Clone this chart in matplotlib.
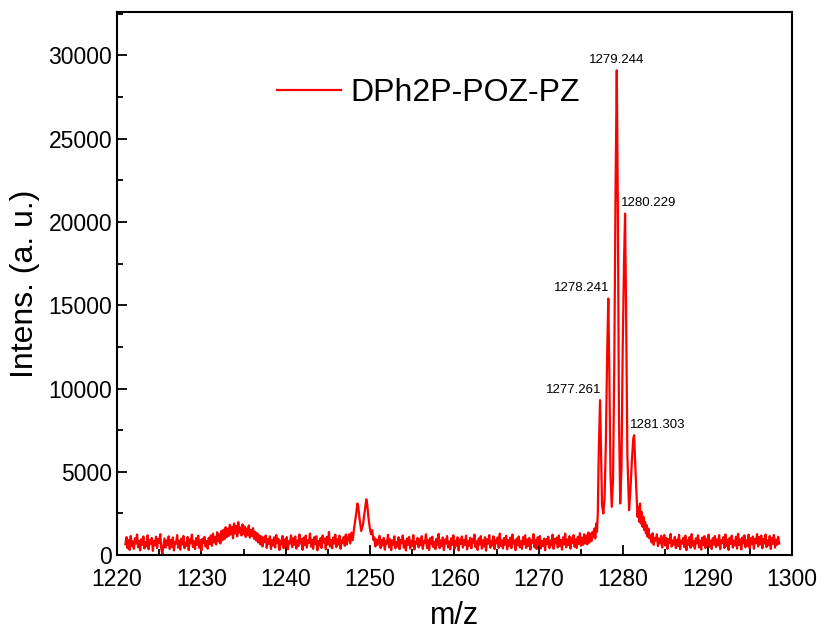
import numpy as np
import matplotlib
matplotlib.use("Agg")
import matplotlib.pyplot as plt
from matplotlib.ticker import MultipleLocator

plt.rcParams["font.family"] = ["Liberation Sans", "DejaVu Sans"]

nan = np.nan

# baseline read every 0.125 m/z from 1221.0 to 1298.5 (nan where the peak lists take over)
base_start = 1221.0
base_step = 0.125
baseline = (
    # 1221 - 1225.875
    [650, 1080, 420, 900, 310, 1150, 560, 820, 380, 1010, 700, 1240, 470, 860, 290, 950, 620, 1120, 400, 780,
     530, 1190, 350, 890, 680, 1030, 260, 840, 590, 1110, 430, 970, 720, 1260, 380, 60, 540, 1000, 460, 880]
    # 1226 - 1230.875
    + [610, 1130, 370, 920, 500, 1060, 280, 800, 690, 1200, 450, 870, 330, 990, 640, 1150, 410, 760, 560, 1090,
       300, 940, 710, 1230, 480, 830, 360, 1020, 620, 1170, 440, 900, 270, 980, 730, 1100, 520, 850, 390, 1040]
    # 1231 - 1235.875
    + [680, 1180, 560, 1290, 760, 1100, 640, 1380, 820, 1250, 700, 1460, 900, 1520, 960, 1680, 1080, 1590, 1150, 1820,
       1240, 1700, 1010, 1900, 1300, 1760, 1120, 1980, 1350, 1650, 1180, 1850, 1260, 1720, 1090, 1600, 1200, 1780, 1050, 1500]
    # 1236 - 1240.875
    + [1150, 1620, 980, 1400, 870, 1310, 760, 1200, 640, 1120, 520, 1050, 780, 1180, 430, 960, 690, 1130, 370, 900,
       580, 1070, 460, 1210, 720, 980, 310, 870, 640, 1150, 420, 940, 560, 1080, 350, 830, 700, 1190, 480, 1010]
    # 1241 - 1245.875
    + [620, 1120, 390, 880, 540, 1240, 700, 960, 320, 1050, 600, 1170, 450, 890, 740, 1300, 510, 920, 380, 1080,
       660, 1140, 290, 850, 570, 1020, 430, 1180, 760, 990, 350, 1100, 640, 1390, 520, 910, 410, 1060, 690, 1230]
    # 1246 - 1250.875
    + [480, 960, 640, 1170, 380, 890, 720, 1080, 560, 1240, 640, 990] + [nan] * 24 + [1060, 520, 940, 610]
    # 1251 - 1255.875
    + [830, 1160, 420, 900, 580, 1040, 330, 860, 690, 1220, 470, 950, 300, 880, 620, 1130, 410, 790, 540, 1070,
       360, 920, 710, 1180, 450, 840, 280, 1000, 630, 1090, 400, 870, 560, 1200, 340, 810, 680, 1040, 470, 960]
    # 1256 - 1260.875
    + [590, 1140, 380, 850, 720, 1250, 430, 900, 310, 1020, 650, 1110, 480, 800, 360, 990, 610, 1280, 420, 880,
       540, 1060, 300, 930, 700, 1150, 460, 820, 350, 1010, 620, 1190, 390, 870, 560, 1070, 280, 940, 680, 1120]
    # 1261 - 1265.875
    + [450, 910, 620, 1170, 340, 860, 570, 1040, 410, 980, 730, 1230, 480, 830, 310, 1000, 640, 1140, 390, 890,
       520, 1080, 270, 950, 690, 1200, 440, 860, 580, 1130, 360, 920, 710, 1060, 430, 1290, 550, 880, 400, 1020]
    # 1266 - 1270.875
    + [630, 1160, 350, 900, 560, 1050, 420, 1240, 690, 870, 300, 990, 600, 1120, 470, 830, 380, 1080, 650, 1190,
       430, 940, 560, 1030, 330, 880, 720, 1260, 460, 910, 370, 1070, 610, 1150, 400, 850, 540, 1000, 290, 960]
    # 1271 - 1275.875
    + [660, 1110, 420, 880, 590, 1230, 380, 970, 700, 1050, 460, 1180, 540, 900, 330, 1070, 640, 1290, 470, 940,
       610, 1140, 390, 1010, 720, 1200, 500, 950, 430, 1100, 680, 1320, 560, 1040, 620, 1250, 700, 1180, 650, 1360]
    # 1276 - 1280.875
    + [760, 1290, 840, 1400] + [nan] * 36
    # 1281 - 1285.875
    + [nan] * 18
    + [1180, 760, 1310, 620, 1040, 880, 1250, 540, 990, 700, 1160, 460, 920, 1210, 580, 1030, 380, 960, 740, 1270, 510, 880]
    # 1286 - 1290.875
    + [640, 1100, 420, 930, 560, 1220, 350, 870, 690, 1040, 480, 1170, 300, 900, 620, 1080, 440, 1260, 570, 850,
       390, 1010, 710, 1190, 460, 880, 330, 1050, 600, 1140, 420, 960, 680, 1230, 510, 870, 370, 1020, 640, 1150]
    # 1291 - 1295.875
    + [480, 940, 590, 1200, 360, 890, 720, 1080, 430, 1240, 560, 920, 310, 1030, 670, 1170, 450, 860, 580, 1110,
       390, 1280, 620, 950, 340, 1060, 700, 1190, 470, 900, 560, 1230, 410, 1010, 650, 1120, 380, 980, 720, 1260]
    # 1296 - 1298.5
    + [520, 1090, 640, 1180, 410, 960, 700, 1240, 480, 890, 600, 1150, 370, 1020, 690, 1210, 450, 930, 620, 1100, 700]
)

# small doublet near 1249
doublet_mz = [1247.5, 1247.65, 1247.8, 1247.95, 1248.1, 1248.3, 1248.5, 1248.6, 1248.75, 1248.95,
              1249.15, 1249.4, 1249.55, 1249.65, 1249.8, 1249.95, 1250.1, 1250.25, 1250.4]
doublet_int = [1250, 700, 1350, 900, 1600, 2300, 3100, 2900, 2200, 1450,
               1800, 2800, 3350, 3100, 2300, 1700, 1250, 1500, 900]

# isotope cluster
cluster_mz = [1276.5, 1276.6, 1276.7, 1276.8, 1276.9, 1277.0, 1277.1, 1277.261, 1277.38, 1277.5,
              1277.65, 1277.8, 1277.95, 1278.1, 1278.241, 1278.36, 1278.5, 1278.65, 1278.8, 1278.95,
              1279.1, 1279.244, 1279.37, 1279.5, 1279.65, 1279.8, 1279.95, 1280.1, 1280.229, 1280.35,
              1280.5, 1280.7, 1280.85, 1281.05, 1281.2, 1281.303, 1281.42, 1281.6, 1281.7, 1281.8,
              1281.9, 1282.0, 1282.1, 1282.2, 1282.3, 1282.4, 1282.5, 1282.6, 1282.7, 1282.8,
              1282.9, 1283.0, 1283.125]
cluster_int = [1100, 1600, 1000, 1900, 1400, 2600, 6000, 9300, 6100, 3000,
               2500, 3400, 6800, 12000, 15400, 11000, 4800, 2900, 4500, 11500,
               22000, 29100, 21000, 8500, 3100, 5200, 12500, 17500, 20500, 14500,
               6000, 2700, 3800, 5800, 7000, 7200, 5600, 3400, 2300, 2900,
               2000, 3100, 1900, 2600, 1700, 2300, 1500, 2000, 1300, 1800,
               1100, 1600, 1000]

peak_labels = ["1277.261", "1278.241", "1279.244", "1280.229", "1281.303"]
peak_mz = [1277.261, 1278.241, 1279.244, 1280.229, 1281.303]
peak_int = [9300, 15400, 29100, 20500, 7200]

# merge the pieces into one spectrum
base_int = np.array(baseline, dtype=float)
base_mz = base_start + base_step * np.arange(len(base_int))
keep = ~np.isnan(base_int)
mz = np.concatenate([base_mz[keep], doublet_mz, cluster_mz])
inten = np.concatenate([base_int[keep], doublet_int, cluster_int])
order = np.argsort(mz)
mz, inten = mz[order], inten[order]

fig = plt.figure(figsize=(8.24, 6.33), dpi=100)
ax = fig.add_axes([0.142, 0.123, 0.819, 0.858])

ax.plot(mz, inten, color="#FF0000", lw=1.6, label="DPh2P-POZ-PZ")

# peak labels
offsets = {"1277.261": ("right", 1), "1278.241": ("right", 1), "1279.244": ("center", 0),
           "1280.229": ("left", -3), "1281.303": ("left", -3)}
for lab, x, y in zip(peak_labels, peak_mz, peak_int):
    ha, dx = offsets[lab]
    ax.annotate(lab, (x, y), xytext=(dx, 3), textcoords="offset points",
                ha=ha, va="bottom", fontsize=9.5)

ax.set_xlim(1220, 1300)
ax.set_ylim(0, 32600)
ax.xaxis.set_major_locator(MultipleLocator(10))
ax.xaxis.set_minor_locator(MultipleLocator(5))
ax.yaxis.set_major_locator(MultipleLocator(5000))
ax.yaxis.set_minor_locator(MultipleLocator(2500))
ax.tick_params(which="both", direction="in", top=False, right=False, labelsize=16.5, width=1.3)
ax.tick_params(which="major", length=7)
ax.tick_params(which="minor", length=4)
ax.tick_params(axis="x", which="both", pad=9.5)
for sp in ax.spines.values():
    sp.set_linewidth(1.5)

ax.set_xlabel("m/z", fontsize=22, labelpad=7)
ax.set_ylabel("Intens. (a. u.)", fontsize=23, labelpad=6)

ax.legend(loc="center left", bbox_to_anchor=(0.237, 0.851), frameon=False, fontsize=23,
          borderaxespad=0, borderpad=0, handletextpad=0.3, handlelength=2.0)

fig.savefig("out.png", dpi=100)
